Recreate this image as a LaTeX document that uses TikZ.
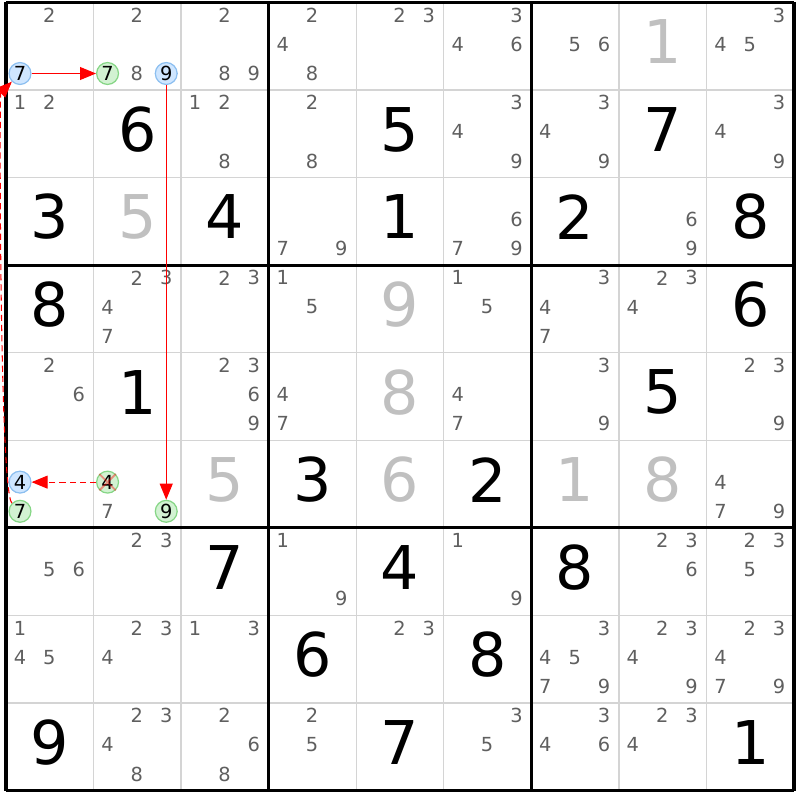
\documentclass[tikz,border=0pt]{standalone}
\usepackage{fontspec}
\setmainfont{DejaVu Sans}
\usetikzlibrary{arrows.meta}
\definecolor{candgray}{HTML}{5F5F5F}
\definecolor{solvedgray}{HTML}{C0C0C0}
\definecolor{gridgray}{HTML}{D4D4D4}
\definecolor{markblue}{HTML}{CFE6FF}
\definecolor{markblueline}{HTML}{8CBFF0}
\definecolor{markgreen}{HTML}{D2F2D2}
\definecolor{markgreenline}{HTML}{86D686}
\def\ncells{9}
\newcommand{\candpos}[3]{
  \pgfmathsetmacro\candx{#2 - 1 + 0.16 + 0.335*mod(#3 - 1, 3)}
  \pgfmathsetmacro\candy{-(#1 - 1 + 0.145 + 0.333*int((#3 - 1)/3))}
}

\begin{document}
\begin{tikzpicture}[
    cand/.style={text=candgray, inner sep=0pt, font=\fontsize{6.3}{7}\selectfont},
    given/.style={inner sep=0pt, font=\fontsize{19.6}{22}\selectfont},
    solved/.style={given, text=solvedgray},
    hl/.style={circle, inner sep=0pt, minimum size=0.25cm, line width=0.4pt,
      fill=mark#1, draw=mark#1line, text=black, font=\fontsize{6.3}{7}\selectfont},
    link/.style={red, line width=0.35pt, -{Triangle[length=5.2pt, width=4.2pt]}},
    weak/.style={link, dash pattern=on 2pt off 1.3pt}
  ]
    \useasboundingbox (-0.0685, 0.0285) rectangle (9.0685, -9.1085);
    \draw[step=1, gridgray, line width=0.45pt] (0, 0) grid (\ncells, -\ncells);
    \draw[step=3, black, line width=1pt] (0, 0) grid (\ncells, -\ncells);

    \foreach \r/\c/\v in {2/2/6, 2/5/5, 2/8/7, 3/1/3, 3/3/4, 3/5/1, 3/7/2, 3/9/8,
      4/1/8, 4/9/6, 5/2/1, 5/8/5, 6/4/3, 6/6/2, 7/3/7, 7/5/4, 7/7/8,
      8/4/6, 8/6/8, 9/1/9, 9/5/7, 9/9/1} {
      \node[given] (g\r\c) at (\c - 0.5, -\r + 0.55) {\v};
    }
    \foreach \r/\c/\v in {1/8/1, 3/2/5, 4/5/9, 5/5/8, 6/3/5, 6/5/6, 6/7/1, 6/8/8} {
      \node[solved] (s\r\c) at (\c - 0.5, -\r + 0.55) {\v};
    }

    \foreach \r/\c/\ds in {1/1/{2}, 1/2/{2,8}, 1/3/{2,8,9}, 1/4/{2,4,8}, 1/5/{2,3},
      1/6/{3,4,6}, 1/7/{5,6}, 1/9/{3,4,5},
      2/1/{1,2}, 2/3/{1,2,8}, 2/4/{2,8}, 2/6/{3,4,9}, 2/7/{3,4,9}, 2/9/{3,4,9},
      3/4/{7,9}, 3/6/{6,7,9}, 3/8/{6,9},
      4/2/{2,3,4,7}, 4/3/{2,3}, 4/4/{1,5}, 4/6/{1,5}, 4/7/{3,4,7}, 4/8/{2,3,4},
      5/1/{2,6}, 5/3/{2,3,6,9}, 5/4/{4,7}, 5/6/{4,7}, 5/7/{3,9}, 5/9/{2,3,9},
      6/2/{7}, 6/9/{4,7,9},
      7/1/{5,6}, 7/2/{2,3}, 7/4/{1,9}, 7/6/{1,9}, 7/8/{2,3,6}, 7/9/{2,3,5},
      8/1/{1,4,5}, 8/2/{2,3,4}, 8/3/{1,3}, 8/5/{2,3}, 8/7/{3,4,5,7,9},
      8/8/{2,3,4,9}, 8/9/{2,3,4,7,9},
      9/2/{2,3,4,8}, 9/3/{2,6,8}, 9/4/{2,5}, 9/6/{3,5}, 9/7/{3,4,6}, 9/8/{2,3,4}} {
      \foreach \d in \ds {
        \candpos{\r}{\c}{\d}
        \node[cand] (n\r\c\d) at (\candx, \candy) {\d};
      }
    }

    \foreach \r/\c/\d/\s in {1/1/7/blue, 1/2/7/green, 1/2/9/blue, 6/1/4/blue,
      6/1/7/green, 6/2/4/green, 6/2/9/green} {
      \candpos{\r}{\c}{\d}
      \node[hl=\s] (m\r\c\d) at (\candx, \candy) {\d};
    }
    \draw[red, opacity=0.4, line width=0.6pt] (m624.north west) -- (m624.south east)
      (m624.north east) -- (m624.south west);

    \draw[link] (m117) -- (m127);
    \draw[link] (m129) -- (m629);
    \draw[weak] (m624) -- (m614);
    \draw[weak] (m617) to[out=135, in=-135, distance=0.2cm] (m117);
  \end{tikzpicture}
\end{document}
